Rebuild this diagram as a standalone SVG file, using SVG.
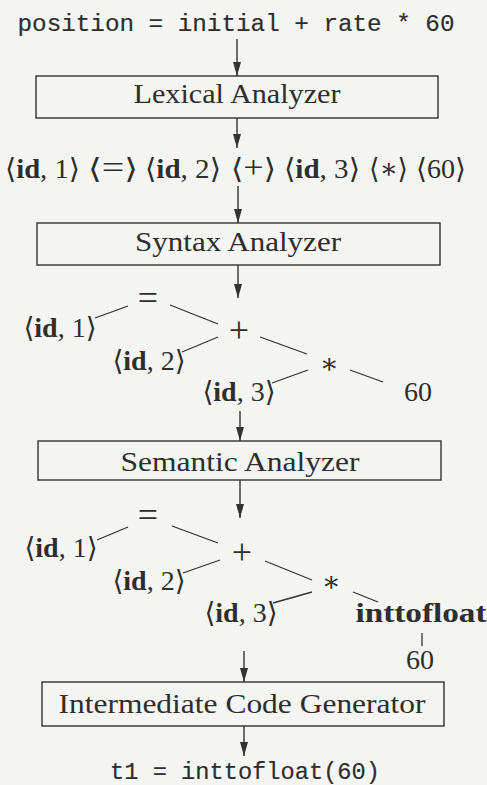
<svg xmlns="http://www.w3.org/2000/svg" width="487" height="785" viewBox="0 0 487 785">
<defs>
<marker id="ah" viewBox="0 0 14 8" refX="14" refY="4" markerWidth="14" markerHeight="8" markerUnits="userSpaceOnUse" orient="auto">
<path d="M0,0 L14,4 L0,8 z" fill="#333"/>
</marker>
<style>
.bg{fill:#f5f5f3}
.box{fill:none;stroke:#333;stroke-width:1.4}
.lbl{font-family:"Liberation Serif","DejaVu Serif",serif;font-size:28px;fill:#2e2e2e;text-anchor:middle}
.op{font-size:36px}
.top{font-size:32px}
.code{font-family:"Liberation Mono","DejaVu Sans Mono",monospace;font-size:24px;fill:#2e2e2e;stroke:#2e2e2e;stroke-width:0.2;text-anchor:middle}
.b{font-weight:bold}
.arr{stroke:#333;stroke-width:1.4;fill:none;marker-end:url(#ah)}
.edge{stroke:#333;stroke-width:1.3;fill:none}
</style>
</defs>
<rect class="bg" x="0" y="0" width="487" height="785"/>

<g id="input"><text class="code" x="236" y="31" textLength="437" lengthAdjust="spacingAndGlyphs">position = initial + rate * 60</text></g>

<g id="lexical"><rect class="box" x="36" y="76" width="402" height="42"/><text class="lbl" x="237" y="103" textLength="207" lengthAdjust="spacingAndGlyphs">Lexical Analyzer</text></g>

<g id="tokens">
<text class="lbl" x="42.5" y="178" textLength="75" lengthAdjust="spacingAndGlyphs">⟨<tspan class="b">id</tspan>, 1⟩</text>
<text class="lbl" x="113" y="178" textLength="50" lengthAdjust="spacingAndGlyphs">⟨<tspan class="top">=</tspan>⟩</text>
<text class="lbl" x="183" y="178" textLength="76" lengthAdjust="spacingAndGlyphs">⟨<tspan class="b">id</tspan>, 2⟩</text>
<text class="lbl" x="253.5" y="178" textLength="45" lengthAdjust="spacingAndGlyphs">⟨<tspan class="top">+</tspan>⟩</text>
<text class="lbl" x="322" y="178" textLength="76" lengthAdjust="spacingAndGlyphs">⟨<tspan class="b">id</tspan>, 3⟩</text>
<text class="lbl" x="388.5" y="178" textLength="39" lengthAdjust="spacingAndGlyphs">⟨∗⟩</text>
<text class="lbl" x="441" y="178">⟨60⟩</text>
</g>

<g id="syntax"><rect class="box" x="37" y="223" width="403" height="42"/><text class="lbl" x="238" y="251" textLength="206" lengthAdjust="spacingAndGlyphs">Syntax Analyzer</text></g>

<g id="t1-assign"><text class="lbl op" x="148" y="310">=</text></g>
<g id="t1-id1"><text class="lbl" x="60" y="337">⟨<tspan class="b">id</tspan>, 1⟩</text></g>
<g id="t1-plus"><text class="lbl op" x="239" y="342">+</text></g>
<g id="t1-id2"><text class="lbl" x="149" y="370">⟨<tspan class="b">id</tspan>, 2⟩</text></g>
<g id="t1-mul"><text class="lbl" x="329" y="373">∗</text></g>
<g id="t1-id3"><text class="lbl" x="239" y="401">⟨<tspan class="b">id</tspan>, 3⟩</text></g>
<g id="t1-60"><text class="lbl" x="418" y="401">60</text></g>

<g id="semantic"><rect class="box" x="38" y="441" width="403" height="39"/><text class="lbl" x="240" y="471" textLength="239" lengthAdjust="spacingAndGlyphs">Semantic Analyzer</text></g>

<g id="t2-assign"><text class="lbl op" x="148" y="527">=</text></g>
<g id="t2-id1"><text class="lbl" x="61" y="557">⟨<tspan class="b">id</tspan>, 1⟩</text></g>
<g id="t2-plus"><text class="lbl op" x="242" y="564">+</text></g>
<g id="t2-id2"><text class="lbl" x="149" y="590">⟨<tspan class="b">id</tspan>, 2⟩</text></g>
<g id="t2-mul"><text class="lbl" x="331" y="591">∗</text></g>
<g id="t2-id3"><text class="lbl" x="241" y="622">⟨<tspan class="b">id</tspan>, 3⟩</text></g>
<g id="t2-conv"><text class="lbl b" x="421" y="622" textLength="131" lengthAdjust="spacingAndGlyphs">inttofloat</text></g>
<g id="t2-60"><text class="lbl" x="420" y="669">60</text></g>

<g id="intermediate"><rect class="box" x="42" y="682" width="402" height="44"/><text class="lbl" x="242" y="713" textLength="367" lengthAdjust="spacingAndGlyphs">Intermediate Code Generator</text></g>

<g id="output"><text class="code" x="245" y="779" textLength="270" lengthAdjust="spacingAndGlyphs">t1 = inttofloat(60)</text></g>

<g id="connectors">
<line class="arr" x1="237" y1="39" x2="237" y2="76"/>
<line class="arr" x1="237" y1="118" x2="237" y2="148"/>
<line class="arr" x1="238" y1="186" x2="238" y2="223"/>
<line class="arr" x1="238" y1="265" x2="238" y2="298"/>
<line class="arr" x1="240" y1="411" x2="240" y2="441"/>
<line class="arr" x1="240" y1="480" x2="240" y2="518"/>
<line class="arr" x1="244" y1="651" x2="244" y2="682"/>
<line class="arr" x1="244" y1="726" x2="244" y2="756"/>
<line class="edge" x1="128" y1="306" x2="95" y2="318"/>
<line class="edge" x1="170" y1="305" x2="218" y2="324"/>
<line class="edge" x1="218" y1="337" x2="182" y2="352"/>
<line class="edge" x1="260" y1="337" x2="307" y2="354"/>
<line class="edge" x1="308" y1="370" x2="272" y2="383"/>
<line class="edge" x1="350" y1="370" x2="383" y2="382"/>
<line class="edge" x1="128" y1="527" x2="97" y2="540"/>
<line class="edge" x1="172" y1="526" x2="218" y2="543"/>
<line class="edge" x1="220" y1="560" x2="183" y2="573"/>
<line class="edge" x1="265" y1="561" x2="312" y2="580"/>
<line class="edge" x1="312" y1="592" x2="273" y2="603"/>
<line class="edge" x1="353" y1="592" x2="378" y2="602"/>
<line class="edge" x1="422" y1="633" x2="422" y2="646"/>
</g>
</svg>
